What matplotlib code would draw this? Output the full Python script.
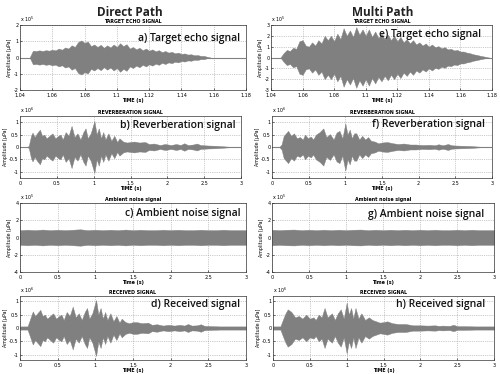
import numpy as np
import matplotlib
matplotlib.use("Agg")
import matplotlib.pyplot as plt

# ---------------- data (envelope amplitudes) ----------------
# a) Direct path target echo (x 10^5)
a_t = [1.046,1.048,1.050,1.052,1.054,1.056,1.058,1.060,1.062,1.064,1.066,1.068,1.070,1.072,
       1.074,1.076,1.078,1.080,1.082,1.084,1.086,1.088,1.090,1.092,1.094,1.096,1.098,1.100,
       1.102,1.104,1.106,1.108,1.110,1.112,1.114,1.116,1.118,1.120,1.122,1.124,1.126,1.128,
       1.130,1.132,1.134,1.136,1.138,1.140,1.142,1.144,1.146,1.148,1.150,1.152,1.154,1.156,1.158]
a_env = [0.0,0.42,0.40,0.44,0.40,0.45,0.42,0.48,0.44,0.55,0.48,0.62,0.55,0.75,
         0.65,0.95,1.05,0.90,0.98,0.70,0.80,0.65,0.78,0.60,0.75,0.62,0.80,0.65,
         0.88,0.70,0.82,0.55,0.65,0.50,0.60,0.45,0.55,0.42,0.50,0.38,0.45,0.33,
         0.40,0.30,0.35,0.26,0.30,0.22,0.25,0.18,0.20,0.14,0.15,0.10,0.10,0.04,0.0]

# e) Multi path target echo (x 10^5)
e_t = [1.046,1.048,1.050,1.052,1.054,1.056,1.058,1.060,1.062,1.064,1.066,1.068,1.070,1.072,
       1.074,1.076,1.078,1.080,1.082,1.084,1.086,1.088,1.090,1.092,1.094,1.096,1.098,1.100,
       1.102,1.104,1.106,1.108,1.110,1.112,1.114,1.116,1.118,1.120,1.122,1.124,1.126,1.128,
       1.130,1.132,1.134,1.136,1.138,1.140,1.142,1.144,1.146,1.148,1.150,1.152,1.154,1.156,
       1.158,1.160,1.162,1.164,1.166,1.168,1.170,1.172,1.174,1.176,1.178]
e_env = [0.0,0.4,0.7,0.6,0.9,0.8,1.5,1.6,1.1,1.0,1.4,1.1,1.6,1.3,
         2.0,1.6,2.0,1.5,2.2,1.7,2.7,2.0,2.5,1.9,2.8,2.1,2.6,2.0,
         2.6,1.9,2.4,1.8,2.2,1.7,2.1,1.6,2.0,1.5,1.9,1.4,1.7,1.3,
         1.6,1.2,1.4,1.1,1.3,1.0,1.2,0.95,1.05,0.85,0.95,0.75,0.8,0.65,
         0.7,0.55,0.55,0.45,0.4,0.3,0.25,0.18,0.12,0.06,0.0]

# b) Direct path reverberation (x 10^6)
b_t = [0.10,0.12,0.15,0.17,0.20,0.23,0.27,0.30,0.33,0.36,0.40,0.44,0.48,0.52,0.55,0.58,
       0.62,0.66,0.70,0.74,0.78,0.82,0.86,0.89,0.92,0.96,1.01,1.04,1.07,1.10,1.13,1.16,
       1.20,1.24,1.28,1.32,1.35,1.40,1.45,1.50,1.55,1.62,1.70,1.75,1.82,1.90,1.97,2.05,
       2.12,2.18,2.23,2.28,2.35,2.40,2.45,2.55,2.65,2.75,2.85,2.90]
b_env = [0.0,0.05,0.45,0.58,0.40,0.55,0.70,0.45,0.50,0.35,0.45,0.55,0.35,0.45,0.50,0.30,
         0.60,0.45,0.85,0.40,0.55,0.30,0.60,0.75,0.35,0.55,1.05,0.50,0.75,0.35,0.60,0.30,
         0.55,0.25,0.45,0.20,0.35,0.22,0.18,0.20,0.22,0.18,0.20,0.12,0.14,0.08,0.12,0.08,
         0.12,0.08,0.15,0.08,0.10,0.14,0.08,0.06,0.05,0.03,0.01,0.0]

# f) Multi path reverberation (x 10^6)
f_t = [0.10,0.13,0.16,0.19,0.22,0.26,0.30,0.34,0.38,0.42,0.45,0.49,0.53,0.56,0.60,0.65,
       0.70,0.74,0.79,0.84,0.88,0.92,0.96,1.00,1.03,1.06,1.09,1.12,1.15,1.19,1.23,1.27,
       1.31,1.35,1.40,1.45,1.50,1.57,1.65,1.72,1.80,1.88,1.96,2.05,2.15,2.22,2.27,2.33,
       2.40,2.45,2.50,2.60,2.70,2.80,2.90]
f_env = [0.0,0.10,0.45,0.55,0.65,0.45,0.55,0.35,0.40,0.30,0.50,0.35,0.42,0.30,0.50,0.60,
         0.75,0.40,0.52,0.30,0.58,0.65,0.35,0.95,0.50,0.70,0.35,0.55,0.55,0.30,0.45,0.30,
         0.40,0.25,0.22,0.15,0.18,0.20,0.15,0.12,0.14,0.10,0.10,0.08,0.09,0.07,0.11,0.07,
         0.12,0.07,0.06,0.05,0.04,0.02,0.0]

# c) / g) Ambient noise (x 10^5)
n_t = [0.0,0.1,0.2,0.3,0.4,0.5,0.6,0.7,0.8,0.9,1.0,1.1,1.2,1.3,1.4,1.5,
       1.6,1.7,1.8,1.9,2.0,2.1,2.2,2.3,2.4,2.5,2.6,2.7,2.8,2.9,3.0]
c_env = [0.85,0.90,0.85,0.92,0.85,0.90,0.85,0.90,0.95,0.85,0.90,0.85,0.90,0.85,0.92,0.85,
         0.90,0.85,0.85,0.90,0.85,0.90,0.85,0.85,0.90,0.85,0.85,0.90,0.85,0.85,0.85]
g_env = [0.90,0.85,0.90,0.92,0.85,0.90,0.85,0.90,0.85,0.90,0.85,0.90,0.92,0.85,0.90,0.85,
         0.90,0.85,0.90,0.85,0.90,0.85,0.90,0.85,0.85,0.90,0.85,0.90,0.85,0.85,0.85]

# d) Direct path received (x 10^6)
d_t = [0.00,0.10,0.13,0.17,0.20,0.23,0.27,0.30,0.33,0.36,0.40,0.44,0.48,0.52,0.55,0.58,
       0.62,0.66,0.70,0.74,0.78,0.82,0.86,0.89,0.92,0.96,1.01,1.04,1.07,1.10,1.13,1.16,
       1.20,1.24,1.28,1.32,1.35,1.40,1.45,1.50,1.55,1.62,1.70,1.75,1.82,1.90,1.97,2.05,
       2.12,2.18,2.23,2.28,2.35,2.40,2.45,2.55,2.65,2.75,2.85,3.00]
d_env = [0.06,0.06,0.30,0.62,0.45,0.55,0.68,0.45,0.50,0.35,0.45,0.55,0.35,0.45,0.50,0.30,
         0.60,0.45,0.80,0.40,0.55,0.30,0.60,0.75,0.35,0.55,1.05,0.50,0.75,0.35,0.60,0.30,
         0.55,0.25,0.45,0.20,0.35,0.22,0.18,0.22,0.22,0.18,0.20,0.12,0.14,0.09,0.12,0.09,
         0.12,0.09,0.15,0.09,0.10,0.14,0.08,0.07,0.06,0.06,0.06,0.06]

# h) Multi path received (x 10^6)
h_t = [0.00,0.10,0.14,0.17,0.20,0.25,0.30,0.35,0.40,0.45,0.50,0.55,0.58,0.62,0.66,0.70,
       0.74,0.80,0.84,0.88,0.92,0.96,1.00,1.03,1.06,1.09,1.12,1.16,1.20,1.25,1.30,1.35,
       1.40,1.45,1.50,1.55,1.62,1.70,1.80,1.90,2.00,2.10,2.20,2.25,2.30,2.40,2.45,2.50,
       2.60,2.75,3.00]
h_env = [0.06,0.06,0.35,0.55,0.70,0.60,0.40,0.45,0.35,0.50,0.35,0.40,0.30,0.50,0.40,0.75,
         0.40,0.55,0.30,0.55,0.70,0.35,0.95,0.50,0.75,0.35,0.75,0.35,0.55,0.30,0.40,0.30,
         0.25,0.20,0.22,0.25,0.18,0.15,0.15,0.10,0.10,0.09,0.10,0.08,0.09,0.08,0.12,0.07,
         0.07,0.06,0.06]

GRAY = "#808080"
W, H = 500, 374
fig = plt.figure(figsize=(5.0, 3.74), dpi=100)
fig.patch.set_facecolor("white")

def box(x0, y0, x1, y1):
    return [x0 / W, 1 - y1 / H, (x1 - x0) / W, (y1 - y0) / H]

T3 = [0, 0.5, 1, 1.5, 2, 2.5, 3]
T3L = ["0", "0.5", "1", "1.5", "2", "2.5", "3"]
TE = [1.04, 1.06, 1.08, 1.10, 1.12, 1.14, 1.16, 1.18]
TEL = ["1.04", "1.06", "1.08", "1.1", "1.12", "1.14", "1.16", "1.18"]

panels = [
    (box(20, 25, 246, 90), a_t, a_env, (1.04, 1.18), TE, TEL, (-2, 2), [-2,-1,0,1,2],
     "TARGET ECHO SIGNAL", "TIME (s)", "5", "a) Target echo signal", (0.975, 0.80)),
    (box(20, 116, 241, 178), b_t, b_env, (0, 3), T3, T3L, (-1.25, 1.25), [-1,-0.5,0,0.5,1],
     "REVERBERATION SIGNAL", "TIME (s)", "6", "b) Reverberation signal", (0.975, 0.84)),
    (box(20, 203, 246, 272), n_t, c_env, (0, 3), T3, T3L, (-4, 4), [-4,-2,0,2,4],
     "Ambient noise signal", "Time (s)", "5", "c) Ambient noise signal", (0.975, 0.855)),
    (box(20, 296, 246, 360), d_t, d_env, (0, 3), T3, T3L, (-1.2, 1.2), [-1,-0.5,0,0.5,1],
     "RECEIVED SIGNAL", "TIME (s)", "6", "d) Received signal", (0.975, 0.875)),
    (box(271, 25, 492, 90), e_t, e_env, (1.04, 1.18), TE, TEL, (-3, 3), [-3,-2,-1,0,1,2,3],
     "TARGET ECHO SIGNAL", "TIME (s)", "5", "e) Target echo signal", (0.95, 0.86)),
    (box(272, 116, 492, 178), f_t, f_env, (0, 3), T3, T3L, (-1.25, 1.25), [-1,-0.5,0,0.5,1],
     "REVERBERATION SIGNAL", "TIME (s)", "6", "f) Reverberation signal", (0.97, 0.86)),
    (box(272, 203, 494, 272), n_t, g_env, (0, 3), T3, T3L, (-4, 4), [-4,-2,0,2,4],
     "Ambient noise signal", "Time (s)", "5", "g) Ambient noise signal", (0.955, 0.84)),
    (box(273, 296, 494, 360), h_t, h_env, (0, 3), T3, T3L, (-1.2, 1.2), [-1,-0.5,0,0.5,1],
     "RECEIVED SIGNAL", "TIME (s)", "6", "h) Received signal", (0.96, 0.875)),
]

for (pos, t, env, xlim, xt, xtl, ylim, yt, title, xlabel, ex, label, lpos) in panels:
    ax = fig.add_axes(pos)
    t = np.asarray(t)
    env = np.asarray(env)
    ax.axhline(0, color=GRAY, lw=0.8, zorder=1)
    ax.fill_between(t, -env, env, color=GRAY, lw=0.3, edgecolor=GRAY, zorder=2)
    ax.set_xlim(*xlim)
    ax.set_ylim(*ylim)
    ax.set_xticks(xt)
    ax.set_xticklabels(xtl)
    ax.set_yticks(yt)
    ax.set_yticklabels([f"{v:g}" for v in yt])
    ax.grid(True, ls=":", lw=0.5, color="#999999")
    ax.set_axisbelow(True)
    ax.tick_params(direction="in", length=1.5, width=0.4, labelsize=3.5)
    ax.tick_params(axis="x", pad=2.2)
    ax.tick_params(axis="y", pad=1)
    for s in ax.spines.values():
        s.set_linewidth(0.5)
        s.set_color("#333333")
    ax.set_title(title, fontsize=3.4, fontweight="bold", pad=1.5)
    ax.set_xlabel(xlabel, fontsize=3.4, fontweight="bold", labelpad=0.3)
    ax.set_ylabel("Amplitude [\u03bcPa]", fontsize=3.4, labelpad=1)
    ax.text(0.0, 1.01, "x 10$^{%s}$" % ex, transform=ax.transAxes, fontsize=3.4,
            ha="left", va="bottom")
    ax.text(lpos[0], lpos[1], label, transform=ax.transAxes, fontsize=7.5,
            ha="right", va="center", family=["Open Sans", "DejaVu Sans"],
            fontweight="semibold", color="#111111")

fig.text(130 / W, 1 - 13 / H, "Direct Path", fontsize=8.5, fontweight="bold",
         ha="center", va="center", family=["Open Sans", "DejaVu Sans"], color="#222222")
fig.text(383 / W, 1 - 13 / H, "Multi Path", fontsize=8.5, fontweight="bold",
         ha="center", va="center", family=["Open Sans", "DejaVu Sans"], color="#222222")

fig.savefig("out.png", dpi=100, facecolor="white")
